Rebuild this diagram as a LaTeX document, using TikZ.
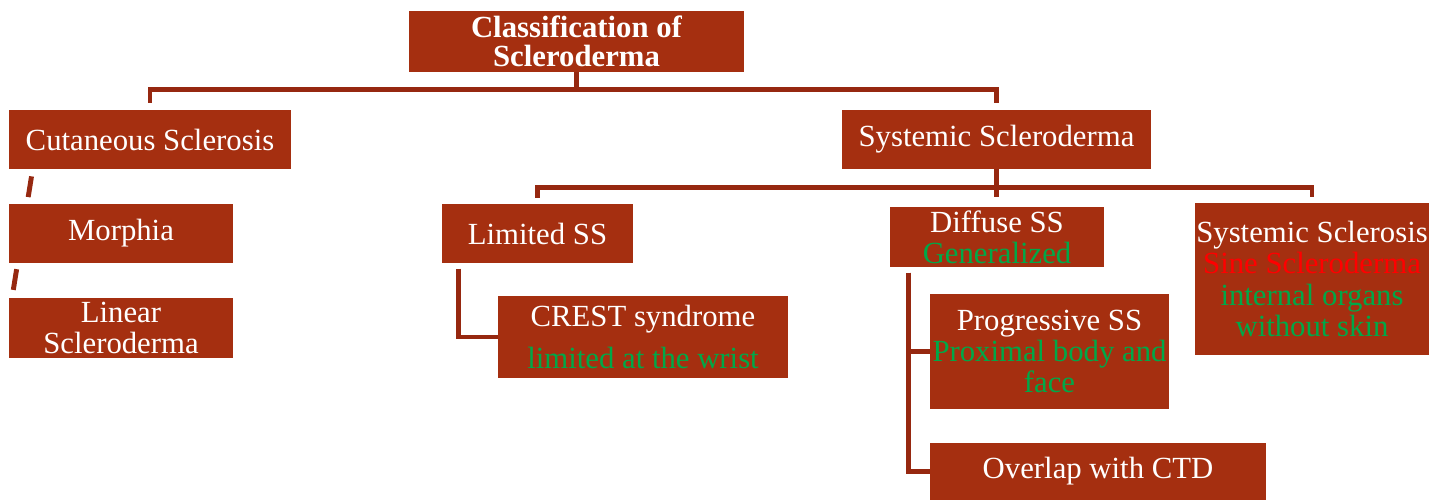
\documentclass[tikz,border=0pt]{standalone}
\usepackage{fontspec}
\setmainfont{Liberation Serif}
\definecolor{boxred}{RGB}{165,47,16}
\definecolor{linered}{RGB}{150,40,16}
\definecolor{leafgreen}{RGB}{0,168,72}
\tikzset{
  box/.style={fill=boxred, text=white, align=center, inner sep=0pt,
    font=\fontsize{17.5}{17.8}\selectfont},
  link/.style={draw=linered, line width=2.8pt},
  note/.style={color=leafgreen},
}
\begin{document}
\begin{tikzpicture}[x=0.02cm, y=-0.02cm]
    \useasboundingbox (0,0) rectangle (1442,500);

    \node[box, font=\fontsize{17.5}{16.5}\selectfont\bfseries, minimum width=6.7cm, minimum height=1.22cm] (title) at (576.5,41.5) {Classification of\\Scleroderma};

    \node[box, minimum width=5.64cm, minimum height=1.18cm] (cut) at (150,139.5) {Cutaneous Sclerosis};
    \node[box, minimum width=6.18cm, minimum height=1.18cm] (sys) at (996.5,139.5) {Systemic Scleroderma};

    \node[box, minimum width=4.48cm, minimum height=1.18cm] (mor) at (121,233.5) {Morphia};
    \node[box, minimum width=4.48cm, minimum height=1.2cm] (lin) at (121,328) {Linear\\Scleroderma};

    \node[box, minimum width=3.82cm, minimum height=1.18cm] (lim) at (537.5,233.5) {Limited SS};
    \node[box, minimum width=5.8cm, minimum height=1.64cm] (crest) at (643,337) {CREST syndrome\\[6pt]\textcolor{leafgreen}{limited at the wrist}};

    \node[box, minimum width=4.28cm, minimum height=1.2cm] (dif) at (997,237) {Diffuse SS\\\textcolor{leafgreen}{Generalized}};
    \node[box, minimum width=4.78cm, minimum height=2.3cm] (prog) at (1049.5,351.5) {Progressive SS\\\textcolor{leafgreen}{Proximal body and}\\\textcolor{leafgreen}{face}};
    \node[box, minimum width=6.72cm, minimum height=1.14cm] (ovl) at (1098,471.5) {Overlap with CTD};

    \node[box, minimum width=4.68cm, minimum height=3.04cm] (ssc) at (1312,279) {Systemic Sclerosis\\\textcolor{red}{Sine Scleroderma}\\\textcolor{leafgreen}{internal organs}\\\textcolor{leafgreen}{without skin}};

    % top level
    \draw[link] ([yshift=4pt]cut.north) -- ++(0,-13) -| (title.south);
    \draw[link] ([yshift=4pt]sys.north) -- ++(0,-13) -| (title.south);

    % systemic branches
    \draw[link] (sys.south) -- ++(0,28);
    \draw[link] ([yshift=3.5pt]lim.north) -- ++(0,-10) -| ([yshift=3.5pt]ssc.north);

    \draw[link] ([xshift=9.6pt,yshift=-3pt]lim.south west) |- (crest.west);
    \draw[link] ([xshift=10.8pt,yshift=-3pt]dif.south west) |- (prog.west);
    \draw[link] ([xshift=10.8pt,yshift=-3pt]dif.south west) |- (ovl.west);

    % cutaneous branches
    \draw[link, dash pattern=on 0.42cm off 1.46cm] ([xshift=13pt,yshift=-4pt]cut.south west) -- ([xshift=2.3pt,yshift=2.3pt]lin.north west);

\end{tikzpicture}
\end{document}
